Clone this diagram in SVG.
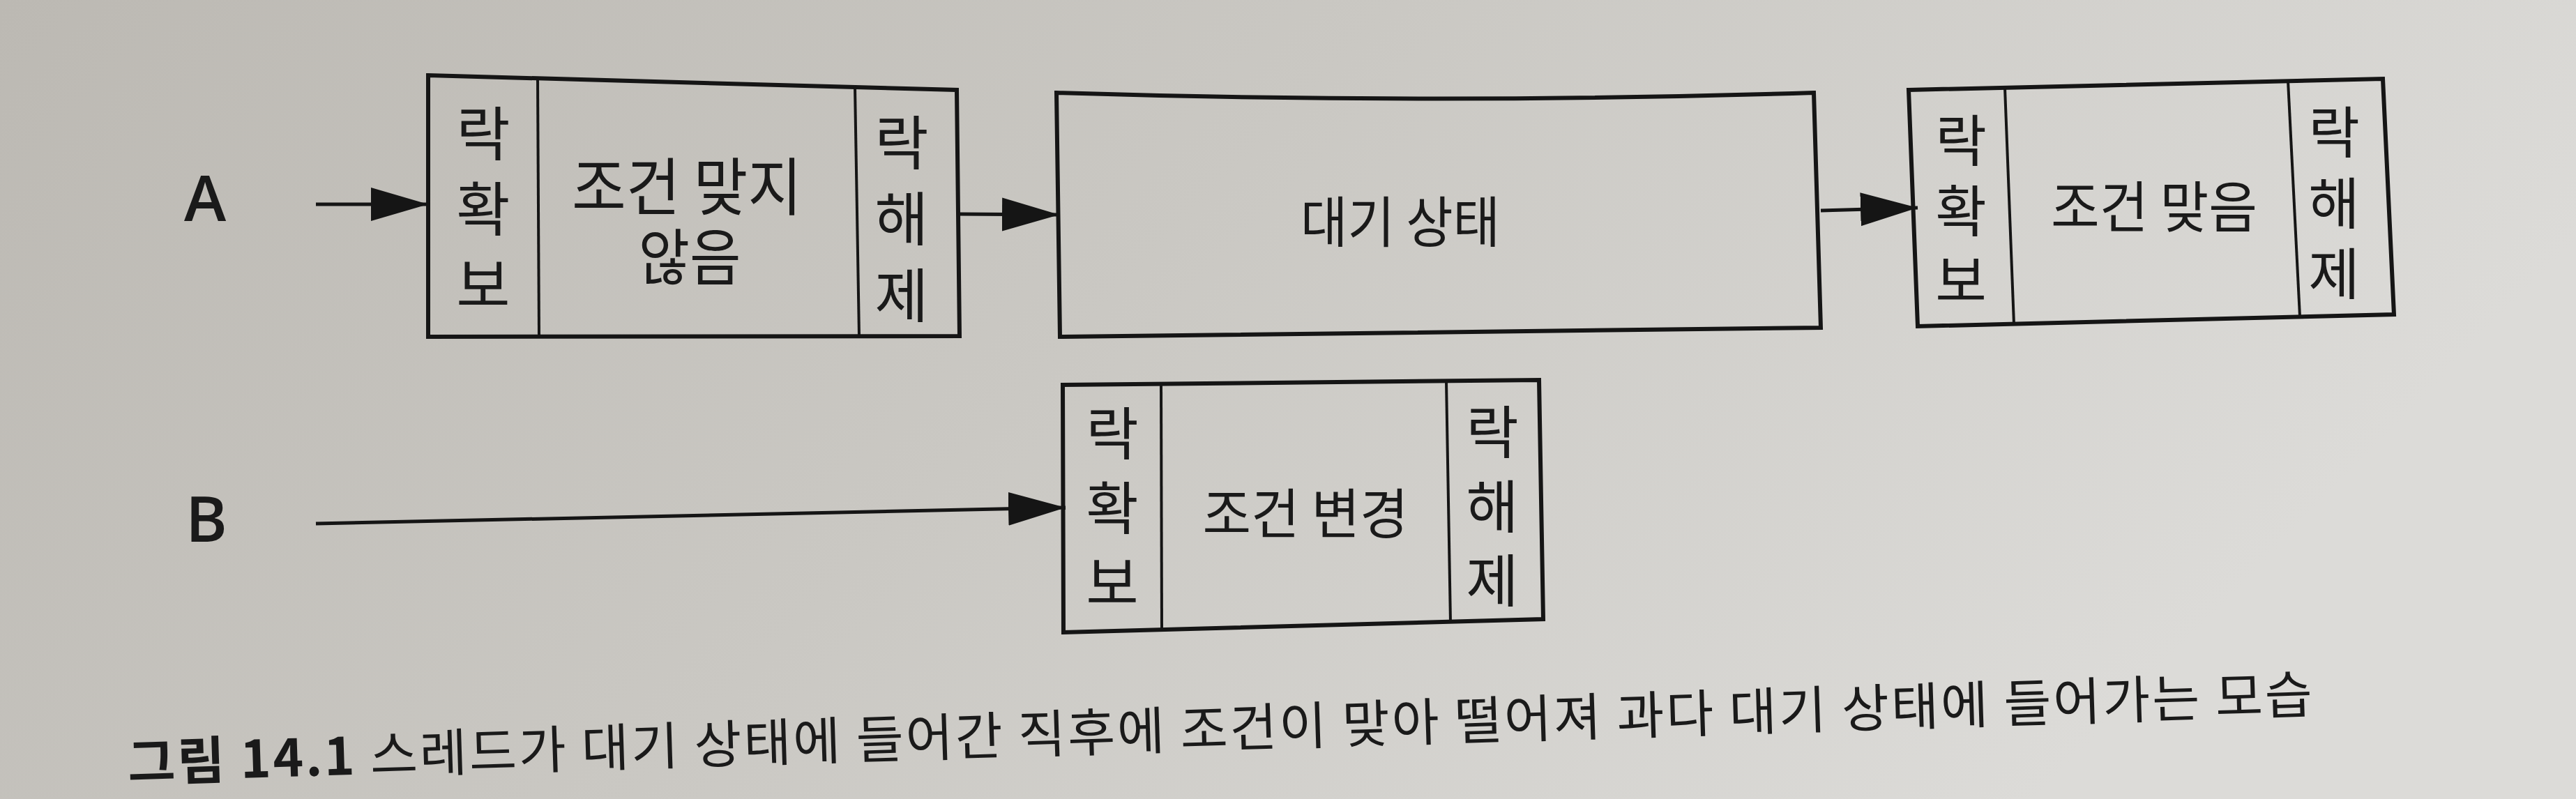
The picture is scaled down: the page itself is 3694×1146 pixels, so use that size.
<svg xmlns="http://www.w3.org/2000/svg" width="3694" height="1146" viewBox="0 0 3694 1146">
  <defs>
    <linearGradient id="paper" x1="0" y1="0" x2="1" y2="0.3">
      <stop offset="0" stop-color="#bcb9b3"/>
      <stop offset="0.5" stop-color="#cac8c3"/>
      <stop offset="1" stop-color="#dcdbd8"/>
    </linearGradient>
    <marker id="arrow" markerUnits="userSpaceOnUse" markerWidth="84" markerHeight="50" refX="82" refY="24" orient="auto" viewBox="0 0 84 50">
      <path d="M0,0 L82,24 L0,48 Z" fill="#151515"/>
    </marker>
    <style>
      .box { fill: none; stroke: #151515; stroke-width: 6; stroke-linejoin: miter; }
      .div { stroke: #151515; stroke-width: 4; fill: none; }
      .conn { stroke: #151515; stroke-width: 5; fill: none; marker-end: url(#arrow); }
      .ko { font-family: "Noto Sans CJK KR", "Noto Sans", sans-serif; fill: #1a1a1a; text-anchor: middle; dominant-baseline: central; }
      .vcol { font-family: "Noto Sans CJK KR", "Noto Sans", sans-serif; fill: #1a1a1a; writing-mode: vertical-rl; text-orientation: upright; text-anchor: start; }
      .lbl { font-family: "Open Sans", "Liberation Sans", sans-serif; font-weight: 600; font-size: 91px; fill: #1a1a1a; text-anchor: middle; }
      .cap { font-family: "Noto Sans CJK KR", "Noto Sans", sans-serif; font-size: 74px; fill: #1a1a1a; }
    </style>
  </defs>

  <rect x="0" y="0" width="3694" height="1146" fill="url(#paper)"/>

  <g id="labelA"><text class="lbl" x="294" y="317">A</text></g>
  <g id="labelB"><text class="lbl" x="296" y="777">B</text></g>

  <g id="connectors">
    <line class="conn" x1="453" y1="293" x2="614" y2="293"/>
    <line class="conn" x1="1376" y1="307" x2="1519" y2="308"/>
    <line class="conn" x1="2611" y1="302" x2="2750" y2="298"/>
    <line class="conn" x1="453" y1="751" x2="1528" y2="728"/>
  </g>

  <g id="nodeA1">
    <polygon class="box" points="614,108 1372,129 1376,482 614,483"/>
    <line class="div" x1="771" y1="112" x2="773" y2="483"/>
    <line class="div" x1="1226" y1="125" x2="1232" y2="482"/>
    <text class="vcol" font-size="84" letter-spacing="24.5" x="693" y="149">락확보</text>
    <text class="ko" font-size="90" x="985" y="262" textLength="330" lengthAdjust="spacingAndGlyphs">조건 맞지</text>
    <text class="ko" font-size="88" x="989" y="362" textLength="147" lengthAdjust="spacingAndGlyphs">않음</text>
    <text class="vcol" font-size="84" letter-spacing="25.5" x="1293" y="162">락해제</text>
  </g>

  <g id="nodeA2">
    <path class="box" d="M1515,133 Q2058,150 2601,133 L2611,470 Q2064,478 1520,483 Z"/>
    <text class="ko" font-size="79" x="2008" y="313" textLength="286" lengthAdjust="spacingAndGlyphs">대기 상태</text>
  </g>

  <g id="nodeA3">
    <polygon class="box" points="2737,129 3417,113 3433,451 2750,468"/>
    <line class="div" x1="2875" y1="126" x2="2888" y2="465"/>
    <line class="div" x1="3281" y1="116" x2="3298" y2="454"/>
    <text class="vcol" font-size="80" letter-spacing="20.5" x="2812" y="161">락확보</text>
    <text class="ko" font-size="80" x="3089" y="291" textLength="296" lengthAdjust="spacingAndGlyphs">조건 맞음</text>
    <text class="vcol" font-size="80" letter-spacing="21.5" x="3347" y="149">락해제</text>
  </g>

  <g id="nodeB1">
    <polygon class="box" points="1524,552 2207,545 2213,888 1525,907"/>
    <line class="div" x1="1665" y1="551" x2="1666" y2="905"/>
    <line class="div" x1="2074" y1="547" x2="2080" y2="892"/>
    <text class="vcol" font-size="82" letter-spacing="25" x="1595" y="580">락확보</text>
    <text class="ko" font-size="78" x="1872" y="732" textLength="295" lengthAdjust="spacingAndGlyphs">조건 변경</text>
    <text class="vcol" font-size="82" letter-spacing="24.5" x="2140" y="578">락해제</text>
  </g>

  <g id="caption">
    <text class="cap" x="184" y="1121" transform="rotate(-1.8 184 1121)" textLength="3134" lengthAdjust="spacing"><tspan font-weight="bold">그림 14.1</tspan> 스레드가 대기 상태에 들어간 직후에 조건이 맞아 떨어져 과다 대기 상태에 들어가는 모습</text>
  </g>
</svg>
